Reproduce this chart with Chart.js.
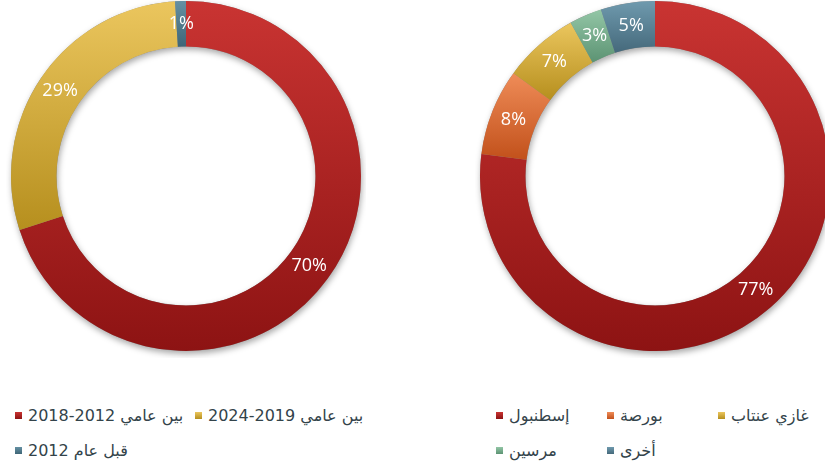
<!DOCTYPE html>
<html lang="ar">
<head>
<meta charset="utf-8">
<title>Doughnuts</title>
<script src="https://cdn.jsdelivr.net/npm/chart.js@4.4.1/dist/chart.umd.min.js"></script>
<style>
  html, body { margin: 0; padding: 0; background: #fff; }
  body { width: 825px; height: 472px; position: relative; overflow: hidden; font-family: "DejaVu Sans", sans-serif; }
  .pie { position: absolute; top: -4px; width: 360px; height: 362px; }
  #periodBox { left: 6px; }
  #cityBox { left: 475px; }
  .legend { position: absolute; top: 405px; margin: 0; padding: 0; list-style: none; display: grid; grid-auto-rows: 20px; row-gap: 15px; font-size: 16px; color: #33434a; }
  .legend li { display: flex; align-items: center; white-space: nowrap; }
  .legend .box { width: 7px; height: 7px; margin-right: 6px; flex: none; }
  #periodLegend { left: 15px; grid-template-columns: 180px auto; }
  #cityLegend { left: 496px; grid-template-columns: 111px 111px auto; }
</style>
</head>
<body>
<div class="pie" id="periodBox"><canvas id="periodChart"></canvas></div>
<div class="pie" id="cityBox"><canvas id="cityChart"></canvas></div>
<ul class="legend" id="periodLegend"></ul>
<ul class="legend" id="cityLegend"></ul>
<script>
// left chart: arrival period
const periodLabels = ['بين عامي 2012-2018', 'بين عامي 2019-2024', 'قبل عام 2012'];
const periodValues = [70, 29, 1];
const periodColors = [['#c93432', '#8d1313'], ['#ebc65e', '#b68f1e'], ['#6590a3', '#3f6677']];

// right chart: city
const cityLabels = ['إسطنبول', 'بورصة', 'غازي عنتاب', 'مرسين', 'أخرى'];
const cityValues = [77, 8, 7, 3, 5];
const cityColors = [['#c93432', '#8d1313'], ['#ef8c58', '#c2511b'], ['#ebc65e', '#b68f1e'], ['#93c6a6', '#5c9373'], ['#6f9aae', '#45697b']];

// vertical gradient over each slice's own height
function sliceFill(colors) {
  return function (c) {
    const chart = c.chart;
    const area = chart.chartArea;
    const pair = colors[c.dataIndex];
    if (!area) return pair[1];
    const ctrl = chart.getDatasetMeta(c.datasetIndex).controller;
    const values = chart.data.datasets[c.datasetIndex].data;
    const total = values.reduce((a, b) => a + b, 0);
    let before = 0;
    for (let i = 0; i < c.dataIndex; i++) before += values[i];
    const a0 = -Math.PI / 2 + 2 * Math.PI * before / total;
    const a1 = a0 + 2 * Math.PI * values[c.dataIndex] / total;
    const cy = (area.top + area.bottom) / 2;
    const ro = ctrl.outerRadius || 1, ri = ctrl.innerRadius || 0;
    const ys = [];
    [a0, a1].forEach(a => ys.push(cy + ro * Math.sin(a), cy + ri * Math.sin(a)));
    if (a0 <= Math.PI / 2 && a1 >= Math.PI / 2) ys.push(cy + ro);
    const top = Math.min(...ys), bottom = Math.max(...ys);
    const g = chart.ctx.createLinearGradient(0, top, 0, bottom);
    g.addColorStop(0, pair[0]);
    g.addColorStop(1, pair[1]);
    return g;
  };
}

// soft drop shadow under the whole ring
const ringShadow = {
  id: 'ringShadow',
  beforeDatasetsDraw(chart) {
    const arc = chart.getDatasetMeta(0).data[0];
    if (!arc) return;
    const ctx = chart.ctx;
    ctx.save();
    ctx.shadowColor = 'rgba(0, 0, 0, 0.35)';
    ctx.shadowBlur = 6;
    ctx.shadowOffsetX = 1;
    ctx.shadowOffsetY = 3;
    ctx.fillStyle = '#8a8a8a';
    ctx.beginPath();
    ctx.arc(arc.x, arc.y, arc.outerRadius, 0, 2 * Math.PI);
    ctx.arc(arc.x, arc.y, arc.innerRadius, 0, 2 * Math.PI, true);
    ctx.fill();
    ctx.restore();
  }
};

// percentage labels in the middle of each slice
const sliceLabels = {
  id: 'sliceLabels',
  afterDatasetsDraw(chart) {
    const ctx = chart.ctx;
    const values = chart.data.datasets[0].data;
    ctx.save();
    ctx.fillStyle = '#ffffff';
    ctx.font = '18px "Open Sans", "DejaVu Sans", sans-serif';
    ctx.textAlign = 'center';
    ctx.textBaseline = 'middle';
    chart.getDatasetMeta(0).data.forEach((arc, i) => {
      const p = arc.tooltipPosition();
      ctx.fillText(values[i] + '%', p.x, p.y);
    });
    ctx.restore();
  }
};

function makeDoughnut(id, labels, values, colors) {
  return new Chart(document.getElementById(id), {
    type: 'doughnut',
    data: {
      labels: labels,
      datasets: [{
        data: values,
        backgroundColor: sliceFill(colors),
        borderWidth: 0,
        hoverOffset: 0
      }]
    },
    options: {
      responsive: true,
      maintainAspectRatio: false,
      animation: false,
      events: [],
      cutout: '74%',
      layout: { padding: { left: 5, right: 5, top: 5, bottom: 7 } },
      plugins: {
        legend: { display: false },
        tooltip: { enabled: false }
      }
    },
    plugins: [ringShadow, sliceLabels]
  });
}

function buildLegend(id, labels, colors) {
  const ul = document.getElementById(id);
  labels.forEach((text, i) => {
    const li = document.createElement('li');
    const box = document.createElement('span');
    box.className = 'box';
    box.style.background = 'linear-gradient(' + colors[i][0] + ', ' + colors[i][1] + ')';
    const label = document.createElement('span');
    label.textContent = text;
    li.append(box, label);
    ul.appendChild(li);
  });
}

makeDoughnut('periodChart', periodLabels, periodValues, periodColors);
makeDoughnut('cityChart', cityLabels, cityValues, cityColors);
buildLegend('periodLegend', periodLabels, periodColors);
buildLegend('cityLegend', cityLabels, cityColors);
</script>
</body>
</html>
